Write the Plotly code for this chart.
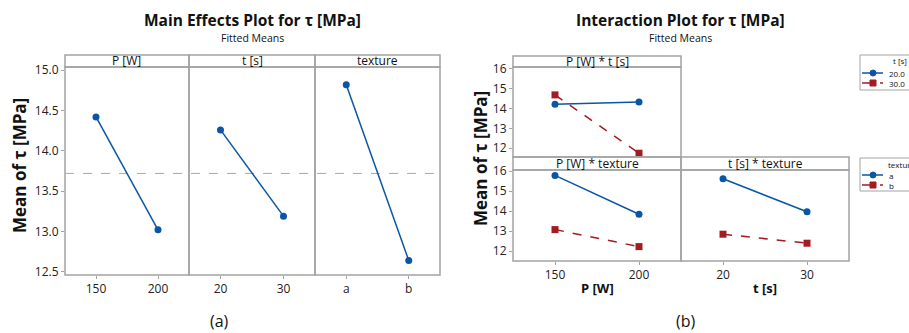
import numpy as np
import plotly.graph_objects as go

# ---------------- data ----------------
p_levels = ["150", "200"]
t_levels = ["20", "30"]
tex_levels = ["a", "b"]

main_P = [14.42, 13.02]
main_t = [14.26, 13.19]
main_tex = [14.82, 12.64]

# interaction P*t  (series by t)
pt_t20 = [14.22, 14.33]
pt_t30 = [14.69, 11.74]
# interaction P*texture (series by texture)
ptex_a = [15.78, 13.84]
ptex_b = [13.07, 12.22]
# interaction t*texture
ttex_a = [15.61, 13.96]
ttex_b = [12.84, 12.39]

legend1_labels = ["20.0", "30.0"]
legend2_labels = ["a", "b"]

W, H = 909, 333
BLUE = "#0B56A4"
RED = "#A21C22"
GRAY = "#A3A3A3"
FONT = "Open Sans"


def px(x):
    return x / W


def py(y):
    return 1 - y / H


fig = go.Figure()

# --------- main effects panels ----------
left_cols = [(65, 189), (189, 315), (315, 440)]
main_data = [(p_levels, main_P, "P [W]"), (t_levels, main_t, "t [s]"), (tex_levels, main_tex, "texture")]
for i, (lv, vals, name) in enumerate(main_data):
    xa = "x" if i == 0 else f"x{i+1}"
    fig.add_trace(go.Scatter(x=lv, y=vals, mode="lines+markers", xaxis=xa, yaxis="y",
                             line=dict(color=BLUE, width=1.5),
                             marker=dict(color=BLUE, size=7, symbol="circle"),
                             showlegend=False, hoverinfo="skip"))

grand_mean = float(np.mean(main_P))

# --------- interaction panels ----------
series = [
    ("x4", "y2", p_levels, pt_t20, BLUE, "solid", "circle"),
    ("x4", "y2", p_levels, pt_t30, RED, "dash", "square"),
    ("x5", "y3", p_levels, ptex_a, BLUE, "solid", "circle"),
    ("x5", "y3", p_levels, ptex_b, RED, "dash", "square"),
    ("x6", "y4", t_levels, ttex_a, BLUE, "solid", "circle"),
    ("x6", "y4", t_levels, ttex_b, RED, "dash", "square"),
]
for xa, ya, lv, vals, col, dash, sym in series:
    fig.add_trace(go.Scatter(x=lv, y=vals, mode="lines+markers", xaxis=xa, yaxis=ya,
                             line=dict(color=col, width=1.5, dash=dash),
                             marker=dict(color=col, size=7, symbol=sym),
                             showlegend=False, hoverinfo="skip"))

tickfont = dict(family=FONT, size=12, color="#222")


def xaxis(dom, anchor, show_ticks=True):
    return dict(domain=[px(dom[0]), px(dom[1])], anchor=anchor, type="category",
                range=[-0.5, 1.5], showgrid=False, zeroline=False, showline=False,
                ticks="outside" if show_ticks else "", ticklen=3, tickcolor=GRAY,
                showticklabels=show_ticks, tickfont=tickfont, fixedrange=True)


def yaxis(dom, rng, dtick, fmt, show=True):
    return dict(domain=[py(dom[1]), py(dom[0])], range=rng, showgrid=False, zeroline=False,
                showline=False, ticks="outside" if show else "", ticklen=3, tickcolor=GRAY,
                showticklabels=show, dtick=dtick, tickformat=fmt, tickfont=tickfont,
                fixedrange=True)


layout = dict(
    width=W, height=H, margin=dict(l=0, r=0, t=0, b=0, autoexpand=False),
    paper_bgcolor="white", plot_bgcolor="white", showlegend=False,
    xaxis=xaxis(left_cols[0], "y"),
    xaxis2=xaxis(left_cols[1], "y"),
    xaxis3=xaxis(left_cols[2], "y"),
    yaxis=dict(**yaxis((67, 275), [12.46, 15.04], 0.5, ".1f"), anchor="x"),
    xaxis4=xaxis((513, 681), "y2", show_ticks=False),
    yaxis2=dict(**yaxis((67, 157), [11.55, 16.1], 1, "d"), anchor="x4"),
    xaxis5=xaxis((513, 681), "y3"),
    yaxis3=dict(**yaxis((170, 261), [11.5, 16.05], 1, "d"), anchor="x5"),
    xaxis6=xaxis((681, 849), "y4"),
    yaxis4=dict(**yaxis((170, 261), [11.5, 16.05], 1, "d", show=False), anchor="x6"),
)

shapes = []


def rect(x0, y0, x1, y1, color=GRAY, width=1.5, fill="rgba(0,0,0,0)"):
    shapes.append(dict(type="rect", xref="paper", yref="paper",
                       x0=px(x0), x1=px(x1), y0=py(y1), y1=py(y0),
                       line=dict(color=color, width=width), fillcolor=fill, layer="above"))


# left frames
for (a, b) in left_cols:
    rect(a, 67, b, 275)
    rect(a, 55, b, 67)
# right frames
rect(513, 67, 681, 157)
rect(513, 56, 681, 67)
rect(513, 170, 681, 261)
rect(681, 170, 849, 261)
rect(513, 157, 681, 170)
rect(681, 157, 849, 170)

# grand mean reference line
shapes.append(dict(type="line", xref="paper", yref="y", x0=px(65), x1=px(440),
                   y0=grand_mean, y1=grand_mean,
                   line=dict(color="#A8A8A8", width=1, dash="dash"), layer="below"))

ann = []


def text(x, y, s, size, bold=False, angle=0, color="#111", xanchor="center"):
    ann.append(dict(x=px(x), y=py(y), xref="paper", yref="paper", text=f"<b>{s}</b>" if bold else s,
                    showarrow=False, xanchor=xanchor, yanchor="middle", textangle=angle,
                    font=dict(family=FONT, size=size, color=color)))


# --------- manual legends (clipped at the right edge like the reference) ---------
def legend(top, bottom, title, title_x, rows):
    rect(860, top, 930, bottom, width=1)
    text(title_x, top + 6, title, 8, xanchor="left")
    for (yy, lab, col, dash, sym) in rows:
        shapes.append(dict(type="line", xref="paper", yref="paper", x0=px(862), x1=px(883),
                           y0=py(yy), y1=py(yy), line=dict(color=col, width=1.5, dash=dash)))
        if sym == "circle":
            shapes.append(dict(type="circle", xref="paper", yref="paper", x0=px(870), x1=px(876),
                               y0=py(yy + 3), y1=py(yy - 3), line=dict(color=col, width=1), fillcolor=col))
        else:
            shapes.append(dict(type="rect", xref="paper", yref="paper", x0=px(870), x1=px(876),
                               y0=py(yy + 3), y1=py(yy - 3), line=dict(color=col, width=1), fillcolor=col))
        text(887, yy, lab, 8, xanchor="left")


legend(55, 90, "t [s]", 891, [(73, legend1_labels[0], BLUE, "solid", "circle"),
                              (83, legend1_labels[1], RED, "dash", "square")])
legend(158, 191, "texture", 886, [(175, legend2_labels[0], BLUE, "solid", "circle"),
                                  (185, legend2_labels[1], RED, "dash", "square")])

text(252, 20, "Main Effects Plot for τ [MPa]", 15.5, bold=True)
text(252, 38, "Fitted Means", 10.5)
text(680, 20, "Interaction Plot for τ [MPa]", 15.5, bold=True)
text(680, 38, "Fitted Means", 10.5)
for (a, b), (_, _, name) in zip(left_cols, main_data):
    text((a + b) / 2, 61, name, 12)
text((513 + 681) / 2, 61.5, "P [W] * t [s]", 12)
text((513 + 681) / 2, 163.5, "P [W] * texture", 12)
text((681 + 849) / 2, 163.5, "t [s] * texture", 12)
text(19, 166, "Mean of τ [MPa]", 17, bold=True, angle=-90)
text(480, 158, "Mean of τ [MPa]", 17, bold=True, angle=-90)
text(597, 288, "P [W]", 13, bold=True)
text(765, 288, "t [s]", 13, bold=True)
text(219, 320.5, "(a)", 16)
text(686, 320.5, "(b)", 16)

layout["shapes"] = shapes
layout["annotations"] = ann

fig.update_layout(**layout)
fig.write_html("out.html")
